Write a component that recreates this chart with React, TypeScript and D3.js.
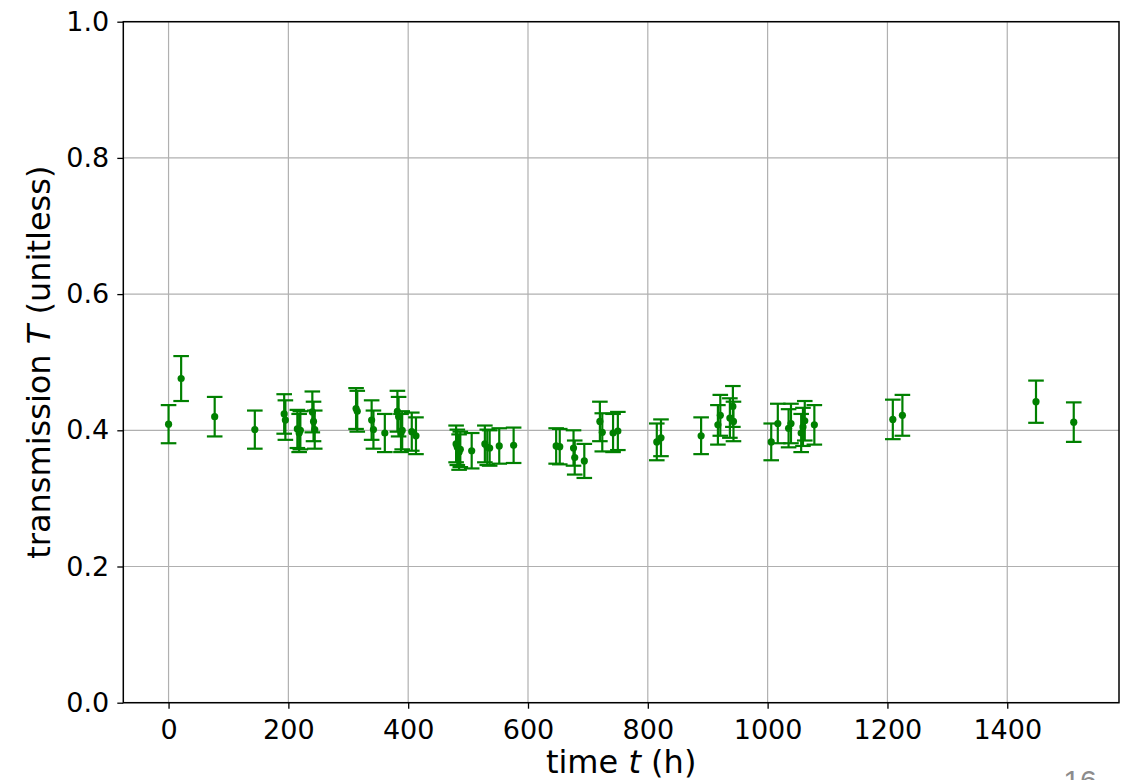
import React, { useEffect, useRef } from 'react';
import * as d3 from 'd3';

// time t (h)
const times = [
  0, 21, 77, 144, 193, 195, 215, 218, 220, 240, 242, 244, 313, 315, 339, 342,
  361, 382, 384, 388, 390, 406, 413, 480, 482, 485, 487, 506, 528, 532, 536,
  552, 576, 647, 653, 676, 678, 694, 720, 724, 742, 750, 815, 822, 889, 917,
  921, 937, 942, 943, 1006, 1017, 1035, 1039, 1056, 1059, 1062, 1078, 1209,
  1225, 1448, 1511,
];

// transmission T
const transmission = [
  0.409, 0.476, 0.42, 0.401, 0.424, 0.415, 0.402, 0.396, 0.4, 0.427, 0.413,
  0.401, 0.432, 0.428, 0.415, 0.401, 0.396, 0.428, 0.42, 0.396, 0.4, 0.398,
  0.392, 0.38, 0.375, 0.368, 0.372, 0.37, 0.38, 0.375, 0.374, 0.377, 0.378,
  0.377, 0.376, 0.374, 0.36, 0.355, 0.413, 0.397, 0.396, 0.399, 0.383, 0.389,
  0.392, 0.408, 0.422, 0.418, 0.435, 0.413, 0.383, 0.41, 0.403, 0.41, 0.396,
  0.405, 0.414, 0.408, 0.416, 0.422, 0.442, 0.412,
];

// error bar half-heights
const errors = [
  0.028, 0.033, 0.029, 0.028, 0.029, 0.029, 0.028, 0.028, 0.028, 0.03, 0.029,
  0.028, 0.03, 0.03, 0.029, 0.028, 0.028, 0.03, 0.029, 0.028, 0.028, 0.028,
  0.027, 0.027, 0.026, 0.026, 0.026, 0.026, 0.027, 0.026, 0.026, 0.026, 0.026,
  0.026, 0.026, 0.026, 0.025, 0.025, 0.029, 0.028, 0.028, 0.028, 0.027, 0.027,
  0.027, 0.029, 0.03, 0.029, 0.03, 0.029, 0.027, 0.029, 0.028, 0.029, 0.028,
  0.028, 0.029, 0.029, 0.029, 0.03, 0.031, 0.029,
];

const xTicks = [0, 200, 400, 600, 800, 1000, 1200, 1400];
const yTicks = [0.0, 0.2, 0.4, 0.6, 0.8, 1.0];

const W = 1131;
const H = 780;

const App = () => {
  const ref = useRef<SVGSVGElement>(null);

  useEffect(() => {
    if (!ref.current) return;
    const svg = d3.select(ref.current);
    svg.selectAll('*').remove();

    const left = 123.3, right = 1119, top = 21.7, bottom = 702.7;
    const font = 'DejaVu Sans, sans-serif';

    // matplotlib style 5% margins on x
    const span = d3.max(times)! - d3.min(times)!;
    const x = d3.scaleLinear()
      .domain([d3.min(times)! - span * 0.05, d3.max(times)! + span * 0.05])
      .range([left, right]);
    const y = d3.scaleLinear().domain([0, 1]).range([bottom, top]);

    svg.append('rect').attr('width', W).attr('height', H).attr('fill', '#fff');

    // grid
    const grid = svg.append('g').attr('stroke', '#b0b0b0').attr('stroke-width', 1.2);
    xTicks.forEach(t => {
      grid.append('line').attr('x1', x(t)).attr('x2', x(t)).attr('y1', top).attr('y2', bottom);
    });
    yTicks.forEach(t => {
      grid.append('line').attr('x1', left).attr('x2', right).attr('y1', y(t)).attr('y2', y(t));
    });

    // error bars
    const data = times.map((t, i) => ({ t, v: transmission[i], e: errors[i] }));
    const green = '#008000';
    const bars = svg.append('g').attr('stroke', green).attr('stroke-width', 2.2);
    data.forEach(d => {
      const cx = x(d.t);
      const y1 = y(d.v + d.e);
      const y2 = y(d.v - d.e);
      bars.append('line').attr('x1', cx).attr('x2', cx).attr('y1', y1).attr('y2', y2);
      bars.append('line').attr('x1', cx - 7.8).attr('x2', cx + 7.8).attr('y1', y1).attr('y2', y1);
      bars.append('line').attr('x1', cx - 7.8).attr('x2', cx + 7.8).attr('y1', y2).attr('y2', y2);
    });
    svg.append('g')
      .selectAll('circle')
      .data(data)
      .join('circle')
      .attr('cx', d => x(d.t))
      .attr('cy', d => y(d.v))
      .attr('r', 3.6)
      .attr('fill', green);

    // axes
    const xAxis = svg.append('g')
      .attr('transform', `translate(0,${bottom})`)
      .call(d3.axisBottom(x).tickValues(xTicks).tickSize(6).tickPadding(5).tickFormat(d3.format('d')));
    const yAxis = svg.append('g')
      .attr('transform', `translate(${left},0)`)
      .call(d3.axisLeft(y).tickValues(yTicks).tickSize(6).tickPadding(8).tickFormat(d3.format('.1f')));
    [xAxis, yAxis].forEach(a => {
      a.select('.domain').remove();
      a.selectAll('line').attr('stroke', '#000').attr('stroke-width', 1.3);
      a.selectAll('text')
        .attr('fill', '#000')
        .style('font-family', font)
        .style('font-size', '27px');
    });
    xAxis.selectAll('text').attr('dy', '0.93em');

    // frame
    svg.append('rect')
      .attr('x', left).attr('y', top)
      .attr('width', right - left).attr('height', bottom - top)
      .attr('fill', 'none').attr('stroke', '#000').attr('stroke-width', 1.5);

    // labels
    const xl = svg.append('text')
      .attr('x', (left + right) / 2).attr('y', 773)
      .attr('text-anchor', 'middle')
      .style('font-family', font).style('font-size', '32px').attr('fill', '#000');
    xl.append('tspan').text('time ');
    xl.append('tspan').attr('font-style', 'italic').text('t');
    xl.append('tspan').text(' (h)');

    const yl = svg.append('text')
      .attr('transform', `translate(50,${(top + bottom) / 2}) rotate(-90)`)
      .attr('text-anchor', 'middle')
      .style('font-family', font).style('font-size', '32px').attr('fill', '#000');
    yl.append('tspan').text('transmission ');
    yl.append('tspan').attr('font-style', 'italic').text('T');
    yl.append('tspan').text(' (unitless)');

    // page number, cut off at the bottom as in the source
    svg.append('text')
      .attr('x', 1080).attr('y', 791)
      .attr('text-anchor', 'middle')
      .style('font-family', 'Liberation Sans, sans-serif').style('font-size', '30px')
      .attr('fill', '#8c8c8c')
      .text('16');
  }, []);

  return (
    <svg
      ref={ref}
      width={W}
      height={H}
      style={{ position: 'absolute', left: 0, top: 0, display: 'block' }}
    />
  );
};

export default App;
